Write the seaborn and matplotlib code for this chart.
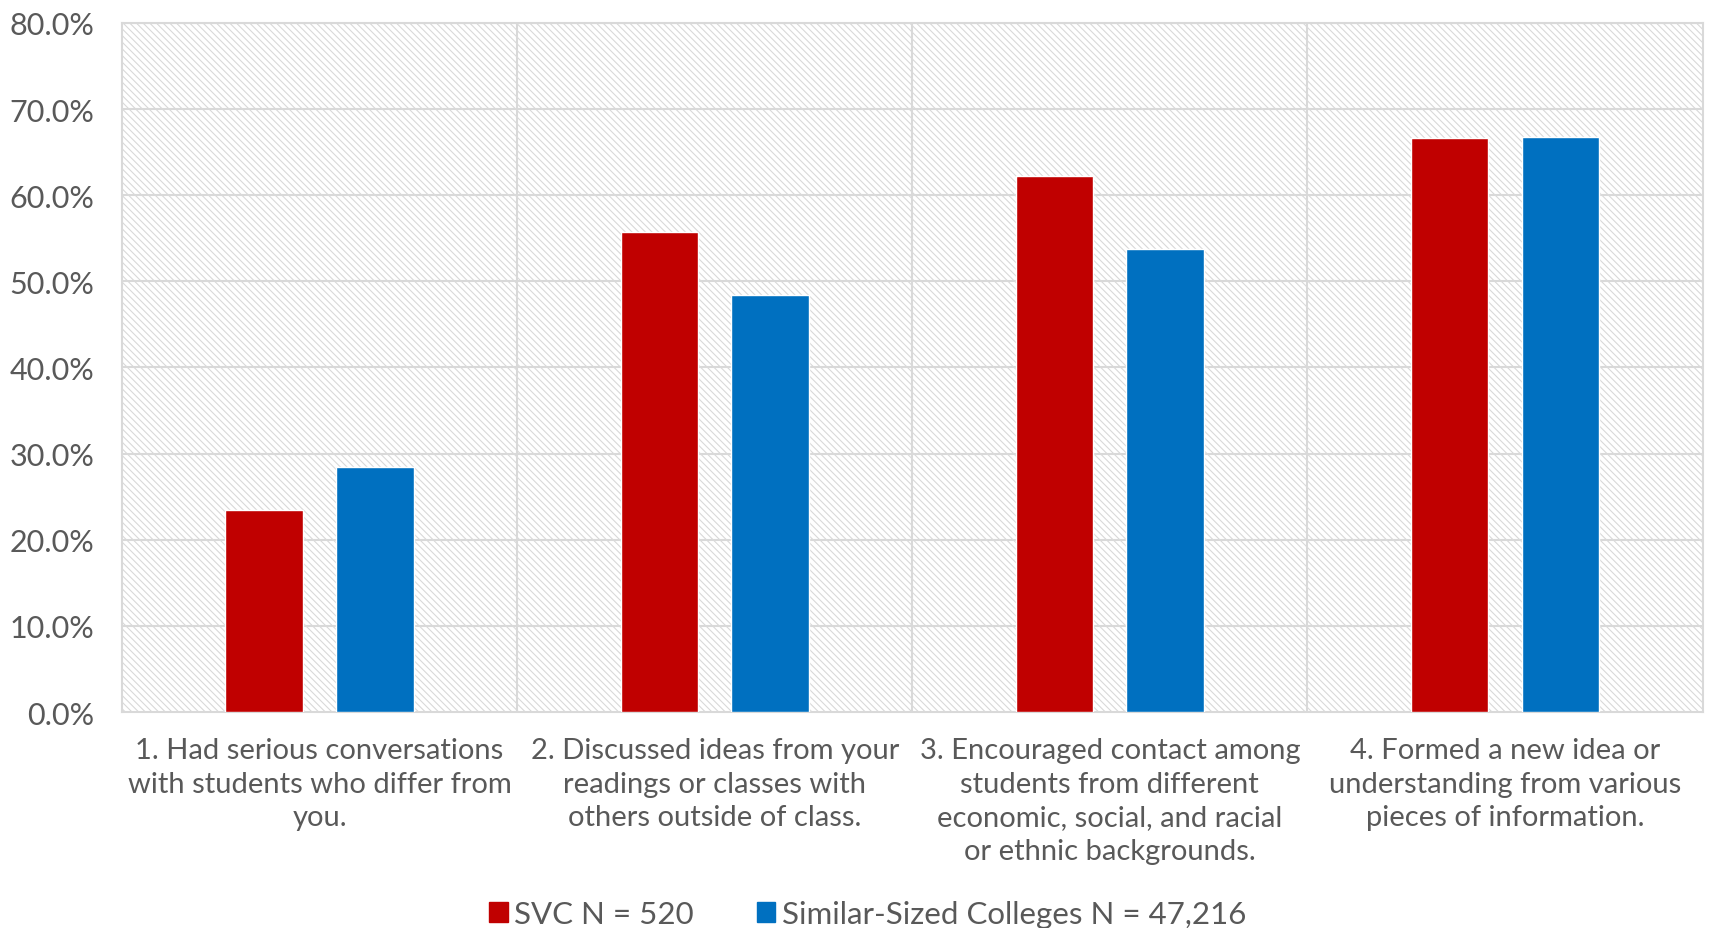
import pandas as pd
import numpy as np
import matplotlib.pyplot as plt
import matplotlib.patches as mpatches
from matplotlib.ticker import PercentFormatter
import seaborn as sns

# data
categories = [
    "1. Had serious conversations\nwith students who differ from\nyou.",
    "2. Discussed ideas from your\nreadings or classes with\nothers outside of class.",
    "3. Encouraged contact among\nstudents from different\neconomic, social, and racial\nor ethnic backgrounds.",
    "4. Formed a new idea or\nunderstanding from various\npieces of information.",
]
series_names = ["SVC N = 520", "Similar-Sized Colleges N = 47,216"]
svc = [23.4, 55.7, 62.2, 66.6]
similar = [28.4, 48.4, 53.7, 66.8]
colors = ["#C00000", "#0070C0"]

df = pd.DataFrame({
    "Item": categories * 2,
    "Group": [series_names[0]] * 4 + [series_names[1]] * 4,
    "Pct": svc + similar,
})

sns.set_theme(style="white")
plt.rcParams["font.family"] = ["Lato", "DejaVu Sans"]
plt.rcParams["hatch.linewidth"] = 0.8
text_col = "#595959"
grid_col = "#d9d9d9"

fig = plt.figure(figsize=(17.25, 9.29), dpi=100)
ax = fig.add_axes([0.0707, 0.2325, 0.9163, 0.7417])

# hatched plot background
bg = mpatches.Rectangle((0, 0), 1, 1, transform=ax.transAxes, facecolor="white",
                        edgecolor="#d9d9d9", hatch="\\\\\\\\\\", lw=0, zorder=0)
ax.add_patch(bg)

sns.barplot(data=df, x="Item", y="Pct", hue="Group", palette=colors, saturation=1,
            width=0.56, gap=0.3, ax=ax, legend=False, zorder=3)

ax.set_ylim(0, 80)
ax.set_xlim(-0.5, 3.5)
ax.set_yticks(np.arange(0, 81, 10))
ax.yaxis.set_major_formatter(PercentFormatter(decimals=1))
for y in np.arange(10, 81, 10):
    ax.axhline(y, color=grid_col, lw=1.5, zorder=1)
for x in [0.5, 1.5, 2.5]:
    ax.axvline(x, color=grid_col, lw=1.5, zorder=1)

for s in ax.spines.values():
    s.set_color(grid_col)
    s.set_linewidth(1.5)

ax.set_xlabel("")
ax.set_ylabel("")
ax.tick_params(axis="y", labelsize=22, labelcolor=text_col, pad=20, length=0)
ax.tick_params(axis="x", labelsize=21, labelcolor=text_col, pad=18, length=0)
for lbl in ax.get_xticklabels():
    lbl.set_verticalalignment("top")
    lbl.set_linespacing(1.36)

handles = [mpatches.Patch(color=c, label=n) for c, n in zip(colors, series_names)]
fig.legend(handles=handles, loc="lower center", bbox_to_anchor=(0.503, -0.03),
           ncol=2, frameon=False, fontsize=22.5, handlelength=0.6, handleheight=0.6,
           handletextpad=0.2, columnspacing=2.0, labelcolor=text_col)

plt.savefig("out.png", dpi=100)
